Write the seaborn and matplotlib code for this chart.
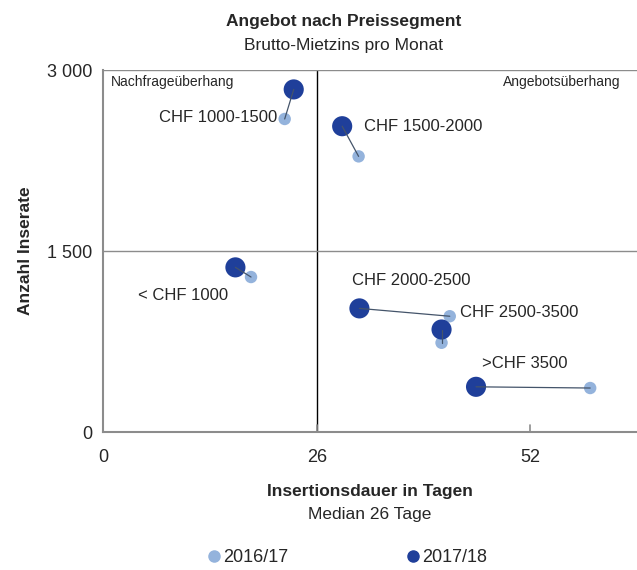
import pandas as pd
import matplotlib
matplotlib.use('Agg')
import matplotlib.pyplot as plt
import seaborn as sns

segments = ['< CHF 1000', 'CHF 1000-1500', 'CHF 1500-2000', 'CHF 2000-2500', 'CHF 2500-3500', '>CHF 3500']
days_1617 = [18.0, 22.1, 31.1, 42.2, 41.2, 59.3]
ads_1617 = [1285, 2595, 2285, 960, 740, 365]
days_1718 = [16.1, 23.2, 29.1, 31.2, 41.2, 45.4]
ads_1718 = [1365, 2840, 2535, 1025, 850, 375]
years = ['2016/17', '2017/18']
x_ticks = [0, 26, 52]
y_ticks = [0, 1500, 3000]
y_ticklabels = ['0', '1 500', '3 000']

# label placement: (anchor year, dx pt, dy pt, ha)
label_pos = {
    '< CHF 1000': ('2017/18', -5, -20, 'right'),
    'CHF 1000-1500': ('2016/17', -5, 1, 'right'),
    'CHF 1500-2000': ('2017/18', 16, 0, 'left'),
    'CHF 2000-2500': ('2017/18', -5, 20, 'left'),
    'CHF 2500-3500': ('2017/18', 13, 12, 'left'),
    '>CHF 3500': ('2017/18', 4, 17, 'left'),
}

df = pd.concat([
    pd.DataFrame({'segment': segments, 'days': days_1617, 'ads': ads_1617, 'year': years[0]}),
    pd.DataFrame({'segment': segments, 'days': days_1718, 'ads': ads_1718, 'year': years[1]}),
], ignore_index=True)

sns.set_style('white')
plt.rcParams['font.family'] = ['Liberation Sans Narrow', 'Liberation Sans', 'DejaVu Sans']

light = '#94B3DC'
dark = '#1F3F9A'

fig = plt.figure(figsize=(6.37, 5.7), dpi=100)
ax = fig.add_axes([0.162, 0.242, 0.838, 0.635])

sns.scatterplot(data=df, x='days', y='ads', hue='year', size='year',
                palette={'2016/17': light, '2017/18': dark},
                sizes={'2016/17': 80, '2017/18': 210},
                linewidth=0, ax=ax, legend=False, zorder=3)

for seg in segments:
    sub = df[df['segment'] == seg]
    ax.plot(sub['days'], sub['ads'], color='#44546A', lw=0.9, zorder=4)
    yr, dx, dy, ha = label_pos[seg]
    row = sub[sub['year'] == yr].iloc[0]
    ax.annotate(seg, (row['days'], row['ads']), xytext=(dx, dy), textcoords='offset points',
                ha=ha, va='center', fontsize=12)

ax.set_xlim(0, 65)
ax.set_ylim(0, 3000)
ax.axvline(26, color='black', lw=1, zorder=1)
for yv in y_ticks[1:]:
    ax.axhline(yv, color='#8C8C8C', lw=1, zorder=1)

ax.set_xticks(x_ticks)
ax.set_yticks(y_ticks)
ax.set_yticklabels(y_ticklabels)
ax.tick_params(axis='both', labelsize=13, length=0, pad=8)
ax.tick_params(axis='x', pad=12)
for t in x_ticks[1:]:
    ax.plot([t, t], [0, 60], color='#8C8C8C', lw=1.2, zorder=1)

sns.despine(ax=ax, top=True, right=True)
for s in ['left', 'bottom']:
    ax.spines[s].set_color('#8C8C8C')
    ax.spines[s].set_linewidth(1.5)

ax.set_xlabel('')
ax.set_ylabel('Anzahl Inserate', fontsize=12.5, fontweight='bold', labelpad=10)

ax.text(0.9, 2900, 'Nachfrageüberhang', fontsize=10, va='center', ha='left')
ax.text(63, 2900, 'Angebotsüberhang', fontsize=10, va='center', ha='right')

fig.text(0.54, 0.963, 'Angebot nach Preissegment', ha='center', va='center', fontsize=12.5, fontweight='bold')
fig.text(0.54, 0.921, 'Brutto-Mietzins pro Monat', ha='center', va='center', fontsize=12.5)
fig.text(0.581, 0.137, 'Insertionsdauer in Tagen', ha='center', va='center', fontsize=12.5, fontweight='bold')
fig.text(0.581, 0.097, 'Median 26 Tage', ha='center', va='center', fontsize=12.5)

handles = [plt.Line2D([], [], marker='o', ls='', color=c, markersize=8) for c in [light, dark]]
fig.legend(handles, years, loc='center', bbox_to_anchor=(0.545, 0.022), ncol=2, frameon=False,
           fontsize=13, handletextpad=0.1, columnspacing=6.5, handlelength=0.8)

fig.savefig('out.png', dpi=100)
